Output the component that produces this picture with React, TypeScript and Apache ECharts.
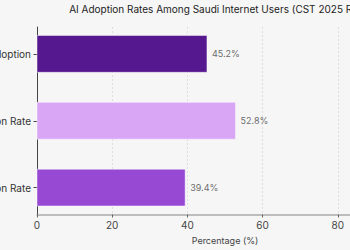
import React, { useEffect, useRef } from "react";
import * as echarts from "echarts";

// Bars listed top to bottom
const categories = ["Overall AI Adoption", "Male Adoption Rate", "Female Adoption Rate"];
const values = [45.2, 52.8, 39.4];
const barColors = ["#55188f", "#d9a5f5", "#9749d4"];
const xTicks = [0, 20, 40, 60, 80, 100];

const TITLE = "AI Adoption Rates Among Saudi Internet Users (CST 2025 Report)";
const FONT = "Inter, 'Open Sans', sans-serif";
const BAR_HEIGHT = 0.55;

export default function App() {
  const ref = useRef<HTMLDivElement>(null);

  useEffect(() => {
    if (!ref.current) return;
    const chart = echarts.init(ref.current, undefined, { renderer: "svg" });
    const pad = BAR_HEIGHT / 2 + (categories.length - 1 + BAR_HEIGHT) * 0.05;
    const points = values.map((v, i) => [v, i]);

    chart.setOption({
      animation: false,
      backgroundColor: "#f6f6f6",
      textStyle: { fontFamily: FONT },
      graphic: [
        {
          type: "text",
          x: 225,
          y: 9,
          style: {
            text: TITLE,
            fontSize: 10,
            fill: "#222",
            fontFamily: FONT,
            align: "center",
            verticalAlign: "middle",
          },
        },
      ],
      grid: { left: 37, top: 27, width: 376, bottom: 35.5, containLabel: false, outerBoundsMode: "none" },
      xAxis: {
        type: "value",
        min: xTicks[0],
        max: xTicks[xTicks.length - 1],
        interval: 20,
        name: "Percentage (%)",
        nameLocation: "middle",
        nameGap: 21,
        nameTextStyle: { fontSize: 9, color: "#444", fontFamily: FONT },
        axisLine: { show: true, onZero: false, lineStyle: { color: "#aaaaaa", width: 1.5 } },
        axisTick: { show: true, length: 3, lineStyle: { color: "#666" } },
        axisLabel: { fontSize: 10, color: "#444", margin: 5, fontFamily: FONT },
        splitLine: { show: true, lineStyle: { color: "#d8d8d8", type: [2, 2], width: 0.8 } },
      },
      yAxis: {
        type: "value",
        inverse: true,
        min: -pad,
        max: categories.length - 1 + pad,
        axisLine: { show: true, onZero: false, lineStyle: { color: "#444", width: 1 } },
        axisTick: {
          show: true,
          length: 3.5,
          customValues: categories.map((_, i) => i),
          lineStyle: { color: "#444" },
        },
        axisLabel: {
          customValues: categories.map((_, i) => i),
          formatter: (v: number) => categories[Math.round(v)] ?? "",
          fontSize: 10,
          color: "#333",
          margin: 6,
          fontFamily: FONT,
        },
        splitLine: { show: false },
      },
      series: [
        {
          type: "custom",
          data: points,
          renderItem: (params: any, api: any) => {
            const v = api.value(0);
            const i = api.value(1);
            const start = api.coord([0, i]);
            const end = api.coord([v, i]);
            const h = Math.abs(api.size([0, BAR_HEIGHT])[1]);
            return {
              type: "rect",
              shape: { x: start[0], y: start[1] - h / 2, width: end[0] - start[0], height: h },
              style: {
                fill: barColors[params.dataIndex],
                stroke: "rgba(255,255,255,0.45)",
                lineWidth: 1,
              },
            };
          },
        },
        {
          type: "scatter",
          data: points,
          symbolSize: 0,
          silent: true,
          label: {
            show: true,
            position: "right",
            distance: 5,
            fontSize: 9,
            color: "#444",
            fontFamily: FONT,
            formatter: (p: any) => p.value[0].toFixed(1) + "%",
          },
        },
      ],
    });

    return () => chart.dispose();
  }, []);

  return (
    <div
      style={{
        position: "fixed",
        left: 0,
        top: 0,
        width: 350,
        height: 250,
        overflow: "hidden",
        background: "#f6f6f6",
      }}
    >
      <div ref={ref} style={{ position: "absolute", left: 0, top: 0, width: 430, height: 250 }} />
    </div>
  );
}
